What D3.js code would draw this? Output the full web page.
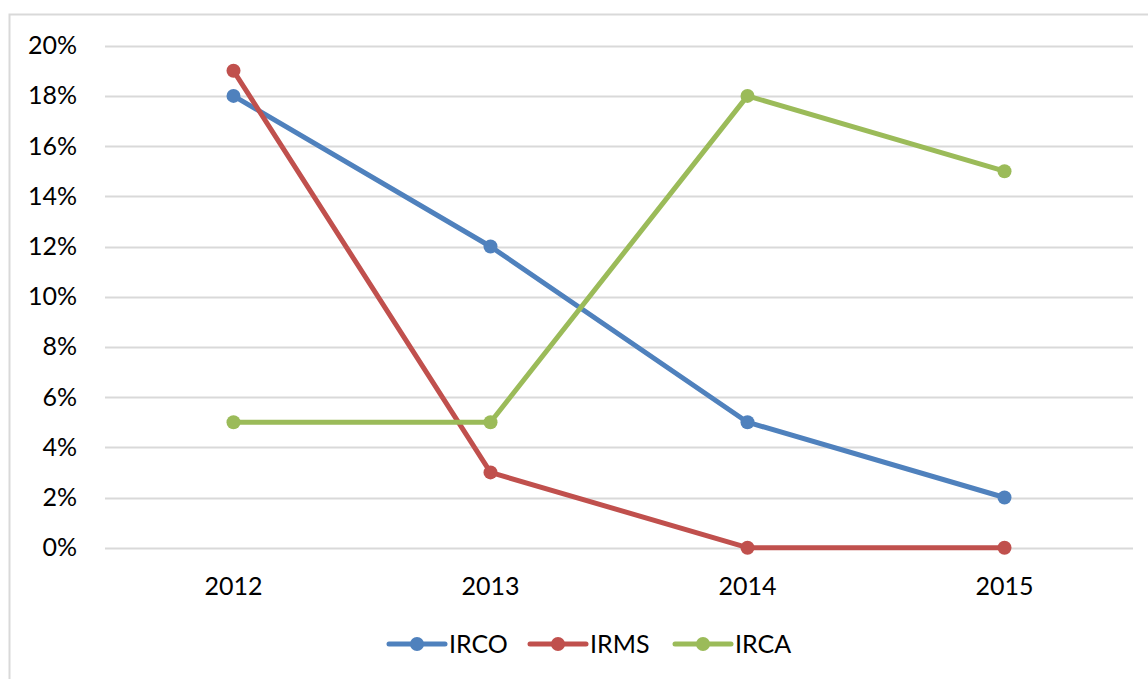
<!DOCTYPE html>
<html><head><meta charset="utf-8">
<script src="https://cdn.jsdelivr.net/npm/d3@7"></script>
<style>body{margin:0;background:#fff}svg{display:block}text{font-family:Lato,"Open Sans",sans-serif}</style>
</head><body>
<svg id="c" width="1148" height="679"></svg>
<script>
const years = ["2012","2013","2014","2015"];
const seriesNames = ["IRCO","IRMS","IRCA"];
const irco = [0.18,0.12,0.05,0.02];
const irms = [0.19,0.03,0.00,0.00];
const irca = [0.05,0.05,0.18,0.15];
const yTicks = [0,0.02,0.04,0.06,0.08,0.10,0.12,0.14,0.16,0.18,0.20];
const colors = ["#4F81BD","#C0504D","#9BBB59"];
const seriesData = [irco, irms, irca];

const svg = d3.select("#c");
svg.append("rect").attr("x",9.5).attr("y",14.5).attr("width",1150).attr("height",680)
  .attr("fill","#fff").attr("stroke","#D9D9D9").attr("stroke-width",2);

const x = d3.scaleBand().domain(years).range([105,1133]);
const y = d3.scaleLinear().domain([0,0.20]).range([547.7,45.7]);

const grid = svg.append("g");
grid.selectAll("line").data(yTicks).join("line")
  .attr("x1",105).attr("x2",1133)
  .attr("y1",d=>Math.round(y(d))+0.5).attr("y2",d=>Math.round(y(d))+0.5)
  .attr("stroke","#D9D9D9").attr("stroke-width",2);

const fmt = d3.format(".0%");
svg.append("g").selectAll("text").data(yTicks).join("text")
  .attr("x",77).attr("y",d=>y(d)+8.5).attr("text-anchor","end")
  .attr("font-size",25).attr("fill","#000").text(d=>fmt(d));

svg.append("g").selectAll("text").data(years).join("text")
  .attr("x",d=>x(d)+x.bandwidth()/2).attr("y",595).attr("text-anchor","middle")
  .attr("font-size",25).attr("fill","#000").text(d=>d);

const line = d3.line().x((d,i)=>x(years[i])+x.bandwidth()/2).y(d=>y(d));
seriesData.forEach((s,k)=>{
  const g = svg.append("g");
  g.append("path").datum(s).attr("d",line).attr("fill","none")
    .attr("stroke",colors[k]).attr("stroke-width",5).attr("stroke-linejoin","round");
  g.selectAll("circle").data(s).join("circle")
    .attr("cx",(d,i)=>x(years[i])+x.bandwidth()/2).attr("cy",d=>y(d)).attr("r",7)
    .attr("fill",colors[k]);
});

const legX = [389,530,675];
const lg = svg.append("g");
seriesNames.forEach((n,k)=>{
  const g = lg.append("g").attr("transform",`translate(${legX[k]},644)`);
  g.append("line").attr("x1",0).attr("x2",56).attr("y1",0).attr("y2",0)
    .attr("stroke",colors[k]).attr("stroke-width",5).attr("stroke-linecap","round");
  g.append("circle").attr("cx",28).attr("cy",0).attr("r",7).attr("fill",colors[k]);
  g.append("text").attr("x",60).attr("y",9).attr("font-size",25).attr("fill","#000").text(n);
});
</script>
</body></html>
